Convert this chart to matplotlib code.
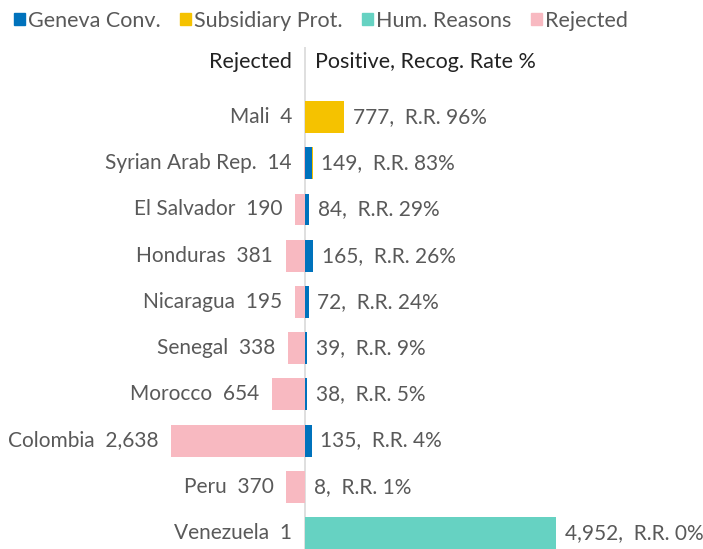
import matplotlib.pyplot as plt
from matplotlib.patches import Patch

countries = ["Mali", "Syrian Arab Rep.", "El Salvador", "Honduras", "Nicaragua",
             "Senegal", "Morocco", "Colombia", "Peru", "Venezuela"]
rejected = [4, 14, 190, 381, 195, 338, 654, 2638, 370, 1]
geneva = [0, 135, 84, 165, 72, 39, 38, 135, 8, 0]
subsidiary = [777, 14, 0, 0, 0, 0, 0, 0, 0, 0]
humanitarian = [0, 0, 0, 0, 0, 0, 0, 0, 0, 4952]
positive = [777, 149, 84, 165, 72, 39, 38, 135, 8, 4952]
rec_rate = [96, 83, 29, 26, 24, 9, 5, 4, 1, 0]

c_gen = "#0072BC"
c_sub = "#F5C200"
c_hum = "#66D2C2"
c_rej = "#F8B9C1"
txt = "#595959"

plt.rcParams['font.family'] = ['Lato', 'DejaVu Sans']

fig = plt.figure(figsize=(7.03, 5.49), dpi=100)
ax = fig.add_axes([0, 0, 1, (549 - 47) / 549])

y = list(range(len(countries)))
h = 0.69
ax.barh(y, [-r for r in rejected], height=h, color=c_rej)
ax.barh(y, geneva, height=h, color=c_gen)
ax.barh(y, subsidiary, left=geneva, height=h, color=c_sub)
left_hum = [g + s for g, s in zip(geneva, subsidiary)]
ax.barh(y, humanitarian, left=left_hum, height=h, color=c_hum)

ax.axvline(0, color="#d9d9d9", lw=1.2, zorder=0)

for i in y:
    ax.text(-rejected[i] - 250, i, f"{countries[i]}  {rejected[i]:,}",
            ha="right", va="center", fontsize=15, color=txt)
    ax.text(positive[i] + 170, i, f"{positive[i]:,},  R.R. {rec_rate[i]}%",
            ha="left", va="center", fontsize=15, color=txt)

ax.text(-250, -1.2, "Rejected", ha="right", va="center", fontsize=15.5, color="#222222")
ax.text(200, -1.2, "Positive, Recog. Rate %", ha="left", va="center", fontsize=15.5, color="#222222")

ax.set_xlim(-6016, 7850)
ax.set_ylim(9.346, -1.515)
ax.axis("off")

handles = [Patch(color=c_gen, label="Geneva Conv."),
           Patch(color=c_sub, label="Subsidiary Prot."),
           Patch(color=c_hum, label="Hum. Reasons"),
           Patch(color=c_rej, label="Rejected")]
leg = fig.legend(handles=handles, loc="center left", bbox_to_anchor=(0.02, 1 - 21 / 549),
                 ncol=4, frameon=False, fontsize=15.5, handlelength=0.5, handleheight=0.5,
                 handletextpad=0.15, columnspacing=0.9, borderaxespad=0, borderpad=0)
for t in leg.get_texts():
    t.set_color(txt)

fig.savefig("out.png", dpi=100)
